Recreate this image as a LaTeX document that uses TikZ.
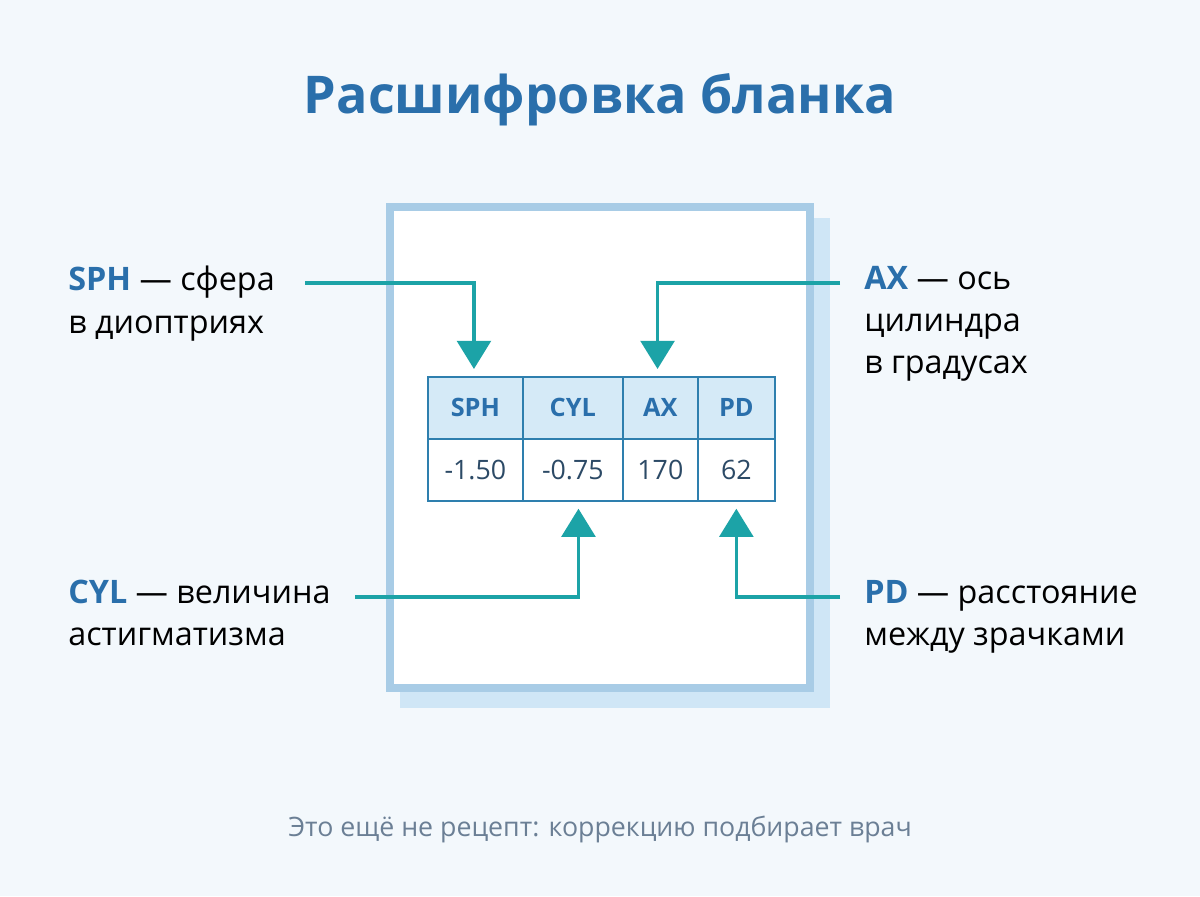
\documentclass[tikz,border=0pt]{standalone}
\usepackage{fontspec}
\setmainfont{Open Sans}
\usetikzlibrary{arrows.meta,positioning}
\definecolor{bgcolor}{HTML}{F3F8FC}
\definecolor{titleblue}{HTML}{2A6FAB}
\definecolor{tealcolor}{HTML}{1CA3A7}
\definecolor{cardborder}{HTML}{A8CCE6}
\definecolor{cardshadow}{HTML}{CFE6F6}
\definecolor{tableline}{HTML}{2E7FAE}
\definecolor{headfill}{HTML}{D5EAF7}
\definecolor{valuetext}{HTML}{2C4A66}
\definecolor{footgray}{HTML}{6B7F95}

\begin{document}
\begin{tikzpicture}[x=0.025cm, y=-0.025cm,
    cell/.style={rectangle, draw=tableline, line width=1.2pt, inner sep=0pt, anchor=north west, minimum height=62*0.025cm},
    headcell/.style={cell, fill=headfill, text=titleblue, font=\fontsize{18}{22}\selectfont\bfseries},
    valcell/.style={cell, fill=white, text=valuetext, font=\fontsize{19}{22}\selectfont},
    lbl/.style={anchor=north west, inner sep=0pt, align=left, font=\fontsize{23}{30}\selectfont},
    pointer/.style={draw=tealcolor, line width=2.4pt, -{Triangle[width=24pt, length=20pt]}}
]

% Background
\fill[bgcolor] (0,0) rectangle (1200,896);
\useasboundingbox (0,0) rectangle (1200,896);

% Title
\node[font=\fontsize{37}{40}\selectfont\bfseries, text=titleblue] (title) at (600,100) {Расшифровка бланка};

% Card
\fill[cardshadow] (400,218) rectangle (830,708);
\draw[cardborder, line width=6pt, fill=white] (390,207) rectangle (810,688);

% Table header
\node[headcell, minimum width=95*0.025cm] (sphH) at (427,376) {SPH};
\node[headcell, minimum width=100*0.025cm] (cylH) at (522,376) {CYL};
\node[headcell, minimum width=75*0.025cm] (axH) at (622,376) {AX};
\node[headcell, minimum width=77*0.025cm] (pdH) at (697,376) {PD};

% Table values
\node[valcell, minimum width=95*0.025cm] (sphV) at (427,438) {-1.50};
\node[valcell, minimum width=100*0.025cm] (cylV) at (522,438) {-0.75};
\node[valcell, minimum width=75*0.025cm] (axV) at (622,438) {170};
\node[valcell, minimum width=77*0.025cm] (pdV) at (697,438) {62};

% Labels
\node[lbl] (sphlbl) at (68,266) {\textcolor{titleblue}{\textbf{SPH}} — сфера\\в диоптриях};
\node[lbl] (axlbl) at (864,266) {\textcolor{titleblue}{\textbf{AX}} — ось\\цилиндра\\в градусах};
\node[lbl] (cyllbl) at (68,580) {\textcolor{titleblue}{\textbf{CYL}} — величина\\астигматизма};
\node[lbl] (pdlbl) at (864,580) {\textcolor{titleblue}{\textbf{PD}} — расстояние\\между зрачками};

% Pointers
\coordinate (sphstart) at (305,283);
\coordinate (axstart) at (840,283);
\coordinate (cylstart) at (355,597);
\coordinate (pdstart) at (840,597);
\draw[pointer, shorten >=5pt] (sphstart) -| ([xshift=-1pt]sphH.north);
\draw[pointer, shorten >=5pt] (axstart) -| ([xshift=-2pt]axH.north);
\draw[pointer, shorten >=5pt] (cylstart) -| ([xshift=4pt]cylV.south);
\draw[pointer, shorten >=5pt] (pdstart) -| (pdV.south);

% Footer
\node[font=\fontsize{19}{21}\selectfont, text=footgray] (footer) at (600,829) {Это ещё не рецепт: коррекцию подбирает врач};

\end{tikzpicture}
\end{document}
